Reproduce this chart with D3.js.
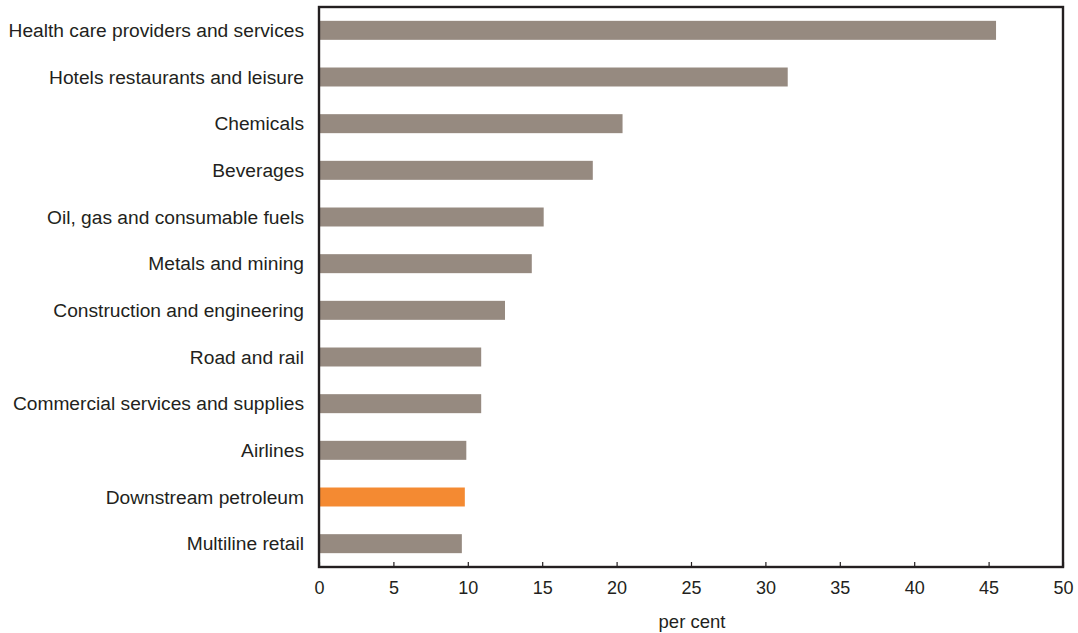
<!DOCTYPE html>
<html>
<head>
<meta charset="utf-8">
<script src="https://cdn.jsdelivr.net/npm/d3@7"></script>
<style>
  body { margin: 0; background: #fff; }
  svg { display: block; font-family: "Liberation Sans", Arial, sans-serif; }
</style>
</head>
<body>
<svg id="chart" width="1078" height="633"></svg>
<script>
const categories = [
  "Health care providers and services",
  "Hotels restaurants and leisure",
  "Chemicals",
  "Beverages",
  "Oil, gas and consumable fuels",
  "Metals and mining",
  "Construction and engineering",
  "Road and rail",
  "Commercial services and supplies",
  "Airlines",
  "Downstream petroleum",
  "Multiline retail"
];
const values = [45.5, 31.5, 20.4, 18.4, 15.1, 14.3, 12.5, 10.9, 10.9, 9.9, 9.8, 9.6];
const highlighted = ["Downstream petroleum"];
const tickValues = [0, 5, 10, 15, 20, 25, 30, 35, 40, 45, 50];
const axisTitle = "per cent";

const svg = d3.select("#chart");
const plotLeft = 319, plotRight = 1063, plotTop = 7, plotBottom = 567;

const x = d3.scaleLinear().domain([0, 50]).range([plotLeft, plotRight]);
const y = d3.scaleBand().domain(categories).range([plotTop, plotBottom])
  .paddingInner(0.593).paddingOuter(0.2965);

// bars
svg.append("g").selectAll("rect")
  .data(categories)
  .join("rect")
  .attr("x", x(0))
  .attr("y", d => y(d))
  .attr("width", (d, i) => x(values[i]) - x(0))
  .attr("height", y.bandwidth())
  .attr("fill", d => highlighted.includes(d) ? "#f48a32" : "#968a80");

// category labels
svg.append("g").selectAll("text")
  .data(categories)
  .join("text")
  .attr("x", 304)
  .attr("y", d => y(d) + y.bandwidth() / 2)
  .attr("dy", "0.35em")
  .attr("text-anchor", "end")
  .attr("font-size", 19.2)
  .attr("fill", "#231f20")
  .text(d => d);

// x axis ticks (inward)
const axis = d3.axisBottom(x).tickValues(tickValues).tickSize(-5).tickPadding(14)
  .tickFormat(d3.format("d"));
const gx = svg.append("g").attr("transform", `translate(0,${plotBottom})`).call(axis);
gx.select(".domain").remove();
gx.selectAll(".tick line").attr("stroke", "#231f20").attr("stroke-width", 1.2);
gx.selectAll(".tick text").attr("font-size", 18).attr("fill", "#231f20")
  .attr("font-family", "'Liberation Sans', Arial, sans-serif");

// frame
svg.append("rect")
  .attr("x", plotLeft).attr("y", plotTop)
  .attr("width", plotRight - plotLeft).attr("height", plotBottom - plotTop)
  .attr("fill", "none").attr("stroke", "#231f20").attr("stroke-width", 2.4);

// axis title
svg.append("text")
  .attr("x", 692)
  .attr("y", 628)
  .attr("text-anchor", "middle")
  .attr("font-size", 18.5)
  .attr("fill", "#231f20")
  .text(axisTitle);
</script>
</body>
</html>
